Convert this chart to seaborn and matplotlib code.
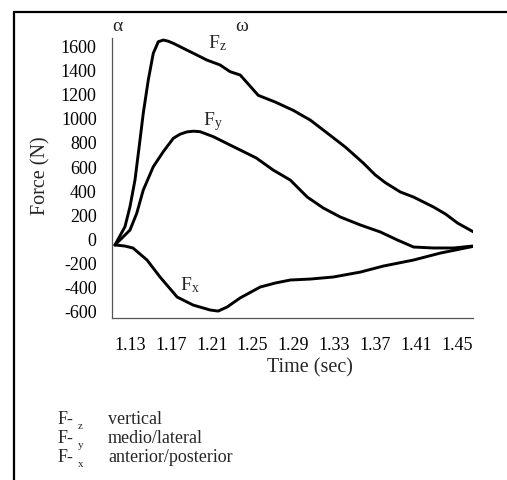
import matplotlib
matplotlib.use("Agg")
import matplotlib.pyplot as plt
import seaborn as sns
import pandas as pd
from matplotlib.lines import Line2D

# ---- data ----
fz_time = [1.1153, 1.1251, 1.1300, 1.1349, 1.1398, 1.1430, 1.1479, 1.1528, 1.1577, 1.1626,
           1.1675, 1.1724, 1.1856, 1.1954, 1.2052, 1.2182, 1.2280, 1.2378, 1.2457, 1.2555,
           1.2722, 1.2898, 1.3065, 1.3231, 1.3408, 1.3584, 1.3700, 1.3800, 1.3946, 1.4075,
           1.4271, 1.4388, 1.4506, 1.4663]
fz_force = [-47, 105, 271, 493, 825, 1047, 1323, 1545, 1641, 1655,
            1645, 1628, 1572, 1531, 1489, 1448, 1392, 1365, 1290, 1196,
            1140, 1071, 990, 882, 766, 633, 535, 470, 393, 351,
            268, 210, 135, 61]

fy_time = [1.1153, 1.1235, 1.1300, 1.1366, 1.1430, 1.1528, 1.1626, 1.1724, 1.1790, 1.1856,
           1.1920, 1.1986, 1.2117, 1.2280, 1.2378, 1.2535, 1.2702, 1.2869, 1.3035, 1.3192,
           1.3359, 1.3555, 1.3750, 1.3918, 1.4075, 1.4271, 1.4467, 1.4663]
fy_force = [-47, 22, 77, 216, 409, 603, 728, 839, 873, 892,
            898, 894, 852, 783, 742, 676, 575, 492, 351, 260,
            185, 119, 61, -6, -64, -72, -72, -55]

fx_time = [1.1153, 1.1251, 1.1329, 1.1467, 1.1594, 1.1761, 1.1918, 1.2084, 1.2163, 1.2251,
           1.2378, 1.2575, 1.2722, 1.2869, 1.3065, 1.3290, 1.3555, 1.3780, 1.4075, 1.4339,
           1.4663]
fx_force = [-47, -56, -72, -172, -313, -479, -546, -587, -596, -562,
            -487, -396, -363, -338, -330, -313, -272, -222, -172, -114,
            -58]

x_ticks = [1.13, 1.17, 1.21, 1.25, 1.29, 1.33, 1.37, 1.41, 1.45]
y_ticks = [-600, -400, -200, 0, 200, 400, 600, 800, 1000, 1200, 1400, 1600]

legend_codes = ["z", "y", "x"]
legend_names = ["vertical", "medio/lateral", "anterior/posterior"]

df = pd.concat([
    pd.DataFrame({"Time": fz_time, "Force": fz_force, "Series": "Fz"}),
    pd.DataFrame({"Time": fy_time, "Force": fy_force, "Series": "Fy"}),
    pd.DataFrame({"Time": fx_time, "Force": fx_force, "Series": "Fx"}),
], ignore_index=True)

sns.set_style("white")
plt.rcParams["font.family"] = ["Liberation Serif", "DejaVu Serif"]
plt.rcParams["mathtext.fontset"] = "custom"
plt.rcParams["mathtext.rm"] = "Liberation Serif"

W, H = 507, 480
fig = plt.figure(figsize=(W / 100, H / 100), dpi=100)
ax = fig.add_axes([112 / W, 1 - 317.7 / H, 361 / W, (317.7 - 38) / H])

sns.lineplot(data=df, x="Time", y="Force", hue="Series", units="Series",
             estimator=None, sort=False,
             palette={"Fz": "black", "Fy": "black", "Fx": "black"},
             linewidth=2.1, legend=False, ax=ax)
for ln in ax.get_lines():
    ln.set_solid_joinstyle("round")
    ln.set_solid_capstyle("round")

ax.set_xlim(1.1124, 1.4657)
ax.set_ylim(-651, 1672)
ax.set_xticks(x_ticks)
ax.set_xticklabels([f"{v:.2f}" for v in x_ticks])
ax.set_yticks(y_ticks)
ax.set_yticklabels([str(v) for v in y_ticks])
ax.tick_params(axis="both", length=0, labelsize=13, colors="black")
ax.tick_params(axis="y", pad=11)
ax.tick_params(axis="x", pad=14)
for s in ["top", "right"]:
    ax.spines[s].set_visible(False)
for s in ["left", "bottom"]:
    ax.spines[s].set_color("#555555")
    ax.spines[s].set_linewidth(0.9)
ax.grid(False)

ax.set_xlabel("Time (sec)", fontsize=14.5)
ax.set_ylabel("Force (N)", fontsize=14.5)
ax.xaxis.set_label_coords((310 - 112) / 361, (317.7 - 358) / 279.7)
ax.yaxis.set_label_coords((50 - 112) / 361, (317.7 - 176) / 279.7)

# curve labels and markers
ax.text(1.1173, 1700, "α", fontsize=14, ha="center", va="bottom", clip_on=False)
ax.text(1.2398, 1700, "ω", fontsize=14, ha="center", va="bottom", clip_on=False)
ax.text(1.2060, 1630, r"$\mathregular{F_z}$", fontsize=14, ha="left", va="center")
ax.text(1.2010, 975, r"$\mathregular{F_y}$", fontsize=14, ha="left", va="center")
ax.text(1.1790, -380, r"$\mathregular{F_x}$", fontsize=14, ha="left", va="center")

# footer legend
rows_y = [424, 443, 462]
for code, name, yb in zip(legend_codes, legend_names, rows_y):
    fig.text(58 / W, 1 - yb / H, "F-", fontsize=13, ha="left", va="baseline")
    fig.text(78 / W, 1 - (yb + 5) / H, code, fontsize=8, ha="left", va="baseline")
    fig.text(108 / W, 1 - yb / H, name, fontsize=13, ha="left", va="baseline")

# frame lines (left and top)
fig.add_artist(Line2D([14 / W, 14 / W], [0, 1 - 12 / H], color="black", linewidth=1.6,
                      transform=fig.transFigure))
fig.add_artist(Line2D([14 / W, 1], [1 - 12 / H, 1 - 12 / H], color="black", linewidth=1.6,
                      transform=fig.transFigure))

fig.savefig("out.png", dpi=100)
